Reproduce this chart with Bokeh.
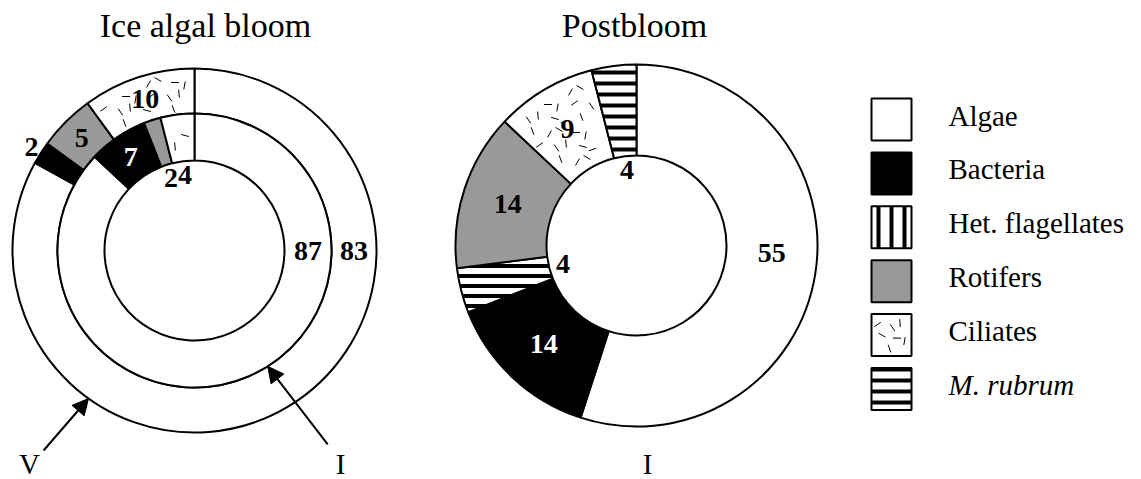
import math
from bokeh.plotting import figure
from bokeh.models import Range1d, Arrow, NormalHead, ColumnDataSource
from bokeh.core.properties import value
from bokeh.embed import file_html
from bokeh.resources import INLINE

# ---------------- data ----------------
categories = ["Algae", "Bacteria", "Het. flagellates", "Rotifers", "Ciliates", "M. rubrum"]
bloom_inner_I = [87, 7, 0, 2, 4, 0]      # Ice algal bloom, ring I
bloom_outer_V = [83, 2, 0, 5, 10, 0]     # Ice algal bloom, ring V
postbloom_I = [55, 14, 4, 14, 9, 4]      # Postbloom, ring I
panel_titles = ["Ice algal bloom", "Postbloom"]
ring_names = ["V", "I", "I"]

# ---------------- styles ----------------
FONT = value("Liberation Serif")
fills = {"Algae": "white", "Bacteria": "black", "Het. flagellates": "white",
         "Rotifers": "#999999", "Ciliates": "white", "M. rubrum": "white"}
hatches = {"Het. flagellates": ("horizontal_line", 10, 4),
           "M. rubrum": ("horizontal_line", 11, 4)}
legend_hatches = {"Het. flagellates": ("vertical_line", 13, 4),
                  "M. rubrum": ("horizontal_line", 11, 4)}
label_colors = {"Bacteria": "white"}
DASH_ANGLES = [20, 110, 60, 150, 0, 80, 35, 125, 95, 165]   # texture of "Ciliates"

W, H = 1141, 479
p = figure(width=W, height=H, x_range=Range1d(0, W), y_range=Range1d(0, H),
           output_backend="svg", toolbar_location=None, min_border=0,
           x_axis_location=None, y_axis_location=None, outline_line_color=None,
           background_fill_color="white", border_fill_color="white")
p.grid.visible = False


def Y(row):
    return H - row


def dash_texture(inside, x0, x1, y0, y1, step=14, half=4.0):
    """Short dashes of varied orientation filling a region (a texture)."""
    seg = dict(xa=[], ya=[], xb=[], yb=[])
    k = 0
    j = 0
    yy = y0
    while yy <= y1:
        xx = x0 + (step / 2 if j % 2 else 0)
        while xx <= x1:
            jx = ((k * 7) % 5 - 2) * 1.5
            jy = ((k * 3) % 5 - 2) * 1.5
            px, py = xx + jx, yy + jy
            if inside(px, py):
                a = math.radians(DASH_ANGLES[k % len(DASH_ANGLES)])
                seg["xa"].append(px - half * math.cos(a)); seg["ya"].append(py - half * math.sin(a))
                seg["xb"].append(px + half * math.cos(a)); seg["yb"].append(py + half * math.sin(a))
            k += 1
            xx += step
        j += 1
        yy += step
    p.segment(x0="xa", y0="ya", x1="xb", y1="yb", line_color="black", line_width=1,
              source=ColumnDataSource(seg))


def ring(cx, cy, r0, r1, values, outer_ring, algae_angle=90):
    total = float(sum(values))
    cum = 0.0
    src = dict(x=[], y=[], s=[], e=[], fill=[], hp=[], hs=[], hw=[])
    labels = dict(x=[], y=[], text=[], color=[])
    textured = []
    for cat, v in zip(categories, values):
        if v == 0:
            continue
        a0, a1 = cum / total, (cum + v) / total
        src["x"].append(cx); src["y"].append(cy)
        src["s"].append(math.pi / 2 - 2 * math.pi * a1)
        src["e"].append(math.pi / 2 - 2 * math.pi * a0)
        src["fill"].append(fills[cat])
        hp, hs, hw = hatches.get(cat, (" ", 10, 1))
        src["hp"].append(hp); src["hs"].append(hs); src["hw"].append(hw)
        if cat == "Ciliates":
            textured.append((360.0 * a0, 360.0 * a1))
        mid = 360.0 * (cum + v / 2.0) / total
        col = label_colors.get(cat, "black")
        if cat == "Algae":
            ang, rad = algae_angle, (r0 + r1) / 2
        elif v >= 5:
            ang, rad = mid, (r0 + r1) / 2
        elif outer_ring:
            ang, rad, col = mid, r1 + 11, "black"
        else:
            ang, rad, col = mid, r0 - 14, "black"
        t = math.radians(ang)
        labels["x"].append(cx + rad * math.sin(t))
        labels["y"].append(cy + rad * math.cos(t))
        labels["text"].append(str(v))
        labels["color"].append(col)
        cum += v
    p.annular_wedge(x="x", y="y", inner_radius=r0, outer_radius=r1, start_angle="s",
                    end_angle="e", fill_color="fill", line_color="black", line_width=2,
                    hatch_pattern="hp", hatch_scale="hs", hatch_weight="hw",
                    hatch_color="black", source=ColumnDataSource(src))
    for (c0, c1) in textured:
        def inside(px, py, c0=c0, c1=c1):
            dx, dy = px - cx, py - cy
            r = math.hypot(dx, dy)
            if r < r0 + 6 or r > r1 - 6:
                return False
            c = math.degrees(math.atan2(dx, dy)) % 360.0
            pad = math.degrees(6.0 / r)
            return c0 + pad <= c <= c1 - pad
        dash_texture(inside, cx - r1, cx + r1, cy - r1, cy + r1)
    p.text(x="x", y="y", text="text", text_color="color", text_font=FONT,
           text_font_style="bold", text_font_size="28px", text_align="center",
           text_baseline="middle", source=ColumnDataSource(labels))


# left panel: ice algal bloom
LCX, LCY = 194, Y(250)
ring(LCX, LCY, 137, 182, bloom_outer_V, outer_ring=True)
ring(LCX, LCY, 90, 137, bloom_inner_I, outer_ring=False)

# right panel: postbloom
RCX, RCY = 636, Y(245)
ring(RCX, RCY, 90, 181, postbloom_I, outer_ring=False, algae_angle=93)

# titles
p.text(x=[205, 634], y=[Y(25), Y(25)], text=panel_titles, text_font=FONT,
       text_font_size="34px", text_align="center", text_baseline="middle",
       text_color="black")


# arrows pointing to rings
def arrow_to(cx, cy, r, clock_deg, dx, dy):
    t = math.radians(clock_deg)
    tx, ty = cx + r * math.sin(t), cy + r * math.cos(t)
    p.add_layout(Arrow(end=NormalHead(size=16, fill_color="black", line_color="black",
                                      line_width=1),
                       x_start=tx + dx, y_start=ty + dy, x_end=tx, y_end=ty,
                       line_width=2, line_color="black"))


arrow_to(LCX, LCY, 182, 215.6, -45, -52)
arrow_to(LCX, LCY, 137, 147.7, 60, -78)

p.text(x=[29, 340, 647], y=[Y(463)] * 3, text=ring_names, text_font=FONT,
       text_font_size="29px", text_align="center", text_baseline="middle",
       text_color="black")

# legend
box_x, box_w, box_h = 891, 40, 42
leg = dict(x=[], y=[], fill=[], hp=[], hs=[], hw=[])
for i, cat in enumerate(categories):
    row = 119 + i * 53.9
    yc = Y(row)
    leg["x"].append(box_x); leg["y"].append(yc)
    leg["fill"].append(fills[cat])
    hp, hs, hw = legend_hatches.get(cat, (" ", 10, 1))
    leg["hp"].append(hp); leg["hs"].append(hs); leg["hw"].append(hw)
    style = "italic" if cat == "M. rubrum" else "normal"
    p.text(x=[948], y=[Y(row - 4)], text=[cat], text_font=FONT, text_font_size="29px",
           text_font_style=style, text_align="left", text_baseline="middle",
           text_color="black")
p.rect(x="x", y="y", width=box_w, height=box_h, fill_color="fill", line_color="black",
       line_width=2, hatch_pattern="hp", hatch_scale="hs", hatch_weight="hw",
       hatch_color="black", source=ColumnDataSource(leg))
ci_y = Y(119 + categories.index("Ciliates") * 53.9)
dash_texture(lambda px, py: abs(px - box_x) < box_w / 2 - 5 and abs(py - ci_y) < box_h / 2 - 5,
             box_x - box_w / 2 + 6, box_x + box_w / 2, ci_y - box_h / 2 + 6, ci_y + box_h / 2,
             step=12)

open("out.html", "w").write(file_html(p, INLINE))
